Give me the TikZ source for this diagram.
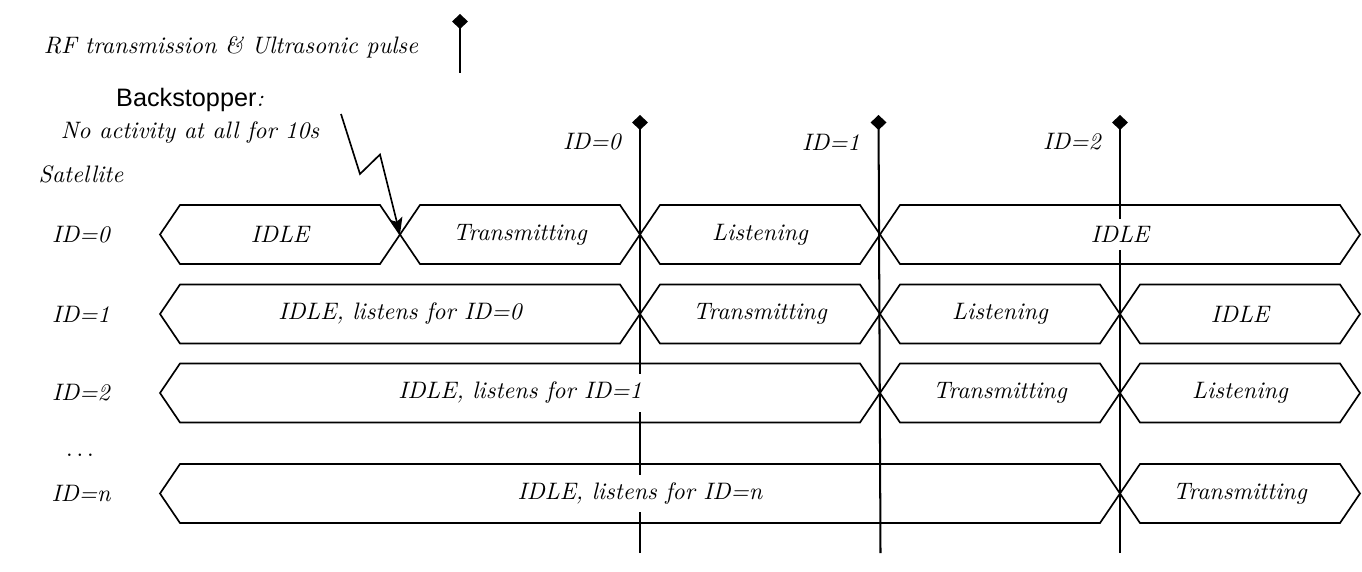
\documentclass[tikz,border=0pt]{standalone}
\usepackage{fontspec}
\newfontfamily\helv{Liberation Sans}
\usetikzlibrary{arrows.meta}
\begin{document}
\begin{tikzpicture}[x=0.42pt,y=-0.42pt,
  hexline/.style={line width=0.7pt, line join=miter},
  marker/.style={line width=0.85pt, -{Diamond[length=6.3pt,width=6.7pt]}},
  statetext/.style={fill=white, inner sep=3.3pt, font=\itshape},
  lbl/.style={font=\itshape, inner sep=1pt},
  bolt/.style={line width=0.7pt, line join=miter, -{Stealth[length=7pt,width=5.5pt,inset=1.5pt]}}]
\useasboundingbox (0,0) rectangle (1362,572);

% state outlines
\foreach \a/\b/\y in {160/400/234.5, 400/640/234.5, 640/880/234.5, 880/1360/234.5,
                      160/640/314, 640/880/314, 880/1120/314, 1120/1360/314,
                      160/880/393, 880/1120/393, 1120/1360/393,
                      160/1120/493.5, 1120/1360/493.5}
  \draw[hexline] (\a,\y) -- ({\a+20},{\y-29.5}) -- ({\b-20},{\y-29.5}) -- (\b,\y)
                 -- ({\b-20},{\y+29.5}) -- ({\a+20},{\y+29.5}) -- cycle;

% event markers
\coordinate (leg0) at (460,73);   \coordinate (leg1) at (460,14);
\coordinate (e0b) at (640,553);   \coordinate (e0t) at (640,115);
\coordinate (e1b) at (880.5,553); \coordinate (e1t) at (878.5,115);
\coordinate (e2b) at (1120,553);  \coordinate (e2t) at (1120,115);
\draw[marker] (leg0) -- (leg1);
\draw[marker] (e0b) -- (e0t);
\draw[marker] (e1b) -- (e1t);
\draw[marker] (e2b) -- (e2t);

% state texts
\node[statetext] (r0a) at (280,234.5) {IDLE};
\node[statetext] (r0b) at (520,234.5) {Transmitting};
\node[statetext] (r0c) at (760,234.5) {Listening};
\node[statetext] (r0d) at (1120,234.5) {IDLE};
\node[statetext] (r1a) at (400,314) {IDLE, listens for ID=0};
\node[statetext] (r1b) at (760,314) {Transmitting};
\node[statetext] (r1c) at (1000,314) {Listening};
\node[statetext] (r1d) at (1240,314) {IDLE};
\node[statetext] (r2a) at (520,393) {IDLE, listens for ID=1};
\node[statetext] (r2b) at (1000,393) {Transmitting};
\node[statetext] (r2c) at (1240,393) {Listening};
\node[statetext] (r3a) at (640,493.5) {IDLE, listens for ID=n};
\node[statetext] (r3b) at (1240,493.5) {Transmitting};

% labels
\node[lbl] (legend) at (231,47) {RF transmission \& Ultrasonic pulse};
\node[lbl] (ev0) at (592,142) {ID=0};
\node[lbl] (ev1) at (831,142) {ID=1};
\node[lbl] (ev2) at (1072,142) {ID=2};
\node[lbl] (sat) at (81,174) {Satellite};
\node[lbl] (s0) at (81,234.5) {ID=0};
\node[lbl] (s1) at (81,314) {ID=1};
\node[lbl] (s2) at (81,393) {ID=2};
\node[lbl] (sdots) at (80,455) {$\ldots$};
\node[lbl] (sn) at (81,493.5) {ID=n};
\node[lbl, align=center] (back) at (190,116)
  {{\upshape\helv\fontsize{10.6}{12}\selectfont Backstopper}\textit{:}\\[1.2pt] No activity at all for 10s};

% backstopper bolt
\coordinate (b0) at (341,114);
\coordinate (b1) at (360,174);
\coordinate (b2) at (380,154.5);
\coordinate (bx) at (400,234.5);
\draw[bolt] (b0) -- (b1) -- (b2) -- (bx);
\end{tikzpicture}
\end{document}
